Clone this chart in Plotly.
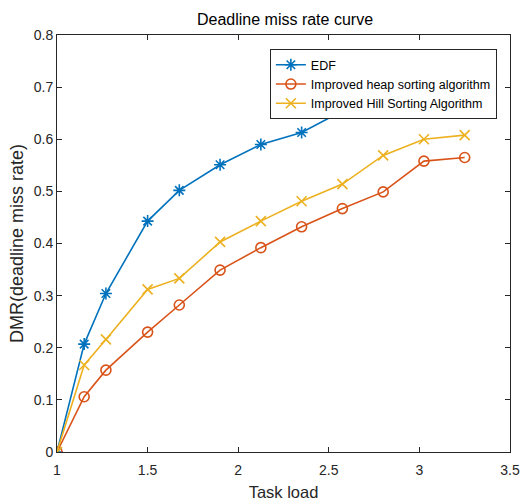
import plotly.graph_objects as go

task_load = [1, 1.15, 1.27, 1.5, 1.675, 1.9, 2.125, 2.35, 2.575, 2.8, 3.025, 3.25]
edf = [0.0, 0.207, 0.304, 0.443, 0.502, 0.551, 0.590, 0.613, 0.654, 0.685, 0.710, 0.730]
heap = [0.0, 0.106, 0.157, 0.230, 0.282, 0.349, 0.392, 0.432, 0.467, 0.499, 0.558, 0.565]
hill = [0.0, 0.167, 0.216, 0.312, 0.333, 0.403, 0.443, 0.481, 0.514, 0.569, 0.600, 0.608]
names = ["EDF", "Improved heap sorting algorithm", "Improved Hill Sorting Algorithm"]
x_ticks = [1, 1.5, 2, 2.5, 3, 3.5]
y_ticks = [0, 0.1, 0.2, 0.3, 0.4, 0.5, 0.6, 0.7, 0.8]

colors = ["#0072BD", "#D95319", "#EDB120"]
symbols = ["asterisk-open", "circle-open", "x-thin-open"]

fig = go.Figure()
for ys, name, c, s in zip([edf, heap, hill], names, colors, symbols):
    fig.add_trace(go.Scatter(
        x=task_load, y=ys, name=name, mode="lines+markers",
        line=dict(color=c, width=1.6),
        marker=dict(symbol=s, size=10, color=c, line=dict(color=c, width=1.6)),
    ))

font = "Liberation Sans, Arial, sans-serif"
axis_common = dict(
    showline=True, linecolor="#262626", linewidth=1, mirror="ticks",
    ticks="inside", ticklen=5, tickcolor="#262626", showgrid=False, zeroline=False,
    tickfont=dict(family=font, size=14, color="#262626"), automargin=False,
    ticklabeloverflow="allow",
)
fig.update_layout(
    width=520, height=502,
    margin=dict(l=57, r=10, t=35, b=50),
    paper_bgcolor="white", plot_bgcolor="white",
    title=dict(text="Deadline miss rate curve", x=285 / 520, xanchor="center",
               y=1 - 19 / 502, yanchor="middle",
               font=dict(family=font, size=16, color="black")),
    xaxis=dict(range=[1, 3.5], tickvals=x_ticks, ticktext=[f"{v:g}" for v in x_ticks],
               ticklabelstandoff=5,
               title=dict(text="Task load", font=dict(family=font, size=16.5, color="#262626"), standoff=9),
               **axis_common),
    yaxis=dict(range=[0, 0.8], tickvals=y_ticks, ticktext=[f"{v:g}" for v in y_ticks],
               title=dict(text="DMR(deadline miss rate)", font=dict(family=font, size=18, color="#262626"), standoff=5),
               **axis_common),
    legend=dict(x=0.971, y=0.966, xanchor="right", yanchor="top",
                bgcolor="white", bordercolor="#262626", borderwidth=1,
                font=dict(family=font, size=12.5, color="black"),
                tracegroupgap=0, itemwidth=30),
    showlegend=True,
)
fig.write_html("out.html", config={"displayModeBar": False},
               post_script="document.body.style.margin='0';")
